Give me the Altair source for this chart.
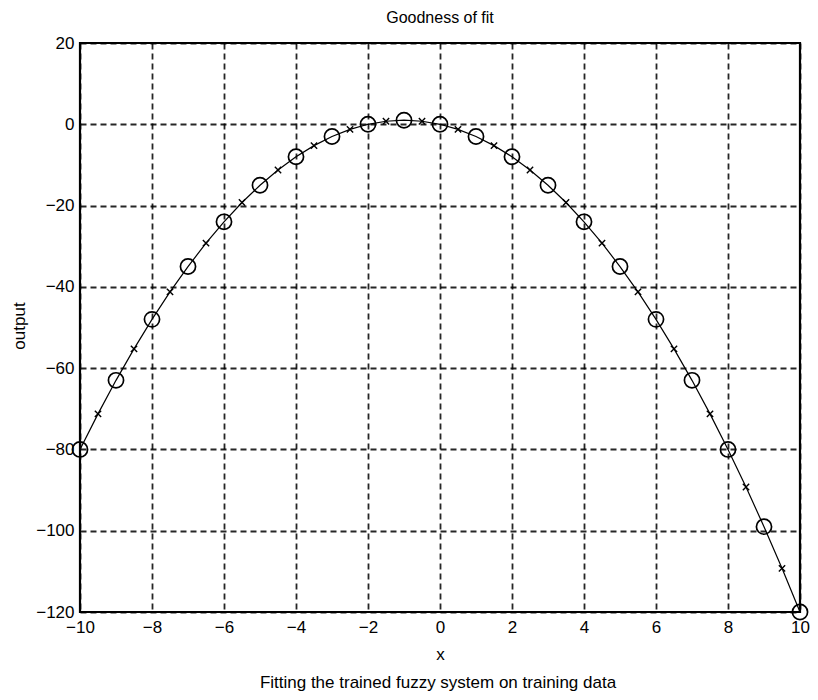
import altair as alt
import pandas as pd

# Training data (circles) at integer x
x_train = [-10, -9, -8, -7, -6, -5, -4, -3, -2, -1, 0, 1, 2, 3, 4, 5, 6, 7, 8, 9, 10]
y_train = [-80, -63, -48, -35, -24, -15, -8, -3, 0, 1, 0, -3, -8, -15, -24, -35, -48, -63, -80, -99, -120]

# Fuzzy system output (crosses) at half-integer x
x_fuzzy = [-9.5, -8.5, -7.5, -6.5, -5.5, -4.5, -3.5, -2.5, -1.5, -0.5,
           0.5, 1.5, 2.5, 3.5, 4.5, 5.5, 6.5, 7.5, 8.5, 9.5]
y_fuzzy = [-71.25, -55.25, -41.25, -29.25, -19.25, -11.25, -5.25, -1.25, 0.75, 0.75,
           -1.25, -5.25, -11.25, -19.25, -29.25, -41.25, -55.25, -71.25, -89.25, -109.25]

x_ticks = [-10, -8, -6, -4, -2, 0, 2, 4, 6, 8, 10]
y_ticks = [-120, -100, -80, -60, -40, -20, 0, 20]

df_train = pd.DataFrame({"x": x_train, "y": y_train})
df_fuzzy = pd.DataFrame({"x": x_fuzzy, "y": y_fuzzy})
df_line = pd.concat([df_train, df_fuzzy]).sort_values("x").reset_index(drop=True)

FONT = "Liberation Sans"
W, H = 720, 569
FS = 17

xs = alt.Scale(domain=[-10, 10], nice=False, zero=False)
ys = alt.Scale(domain=[-120, 20], nice=False, zero=False)

x_axis = alt.Axis(values=x_ticks, title="x", grid=True, ticks=False, domain=False,
                  labelPadding=7, labelFontSize=FS, labelFont=FONT, labelColor="black",
                  titleFontSize=FS, titleFont=FONT, titleFontWeight="normal", titleColor="black",
                  titleY=34, gridColor="black", gridDash=[6, 4], gridWidth=1.8, gridOpacity=0.85,
                  labelFlush=False)
y_axis = alt.Axis(values=y_ticks, title="output", grid=True, ticks=False, domain=False,
                  labelPadding=6, labelFontSize=FS, labelFont=FONT, labelColor="black",
                  titleFontSize=FS, titleFont=FONT, titleFontWeight="normal", titleColor="black",
                  titleX=-52, titleY=H / 2 - 2, gridColor="black", gridDash=[6, 4], gridWidth=1.8,
                  gridOpacity=0.85, labelFlush=False)

line = alt.Chart(df_line).mark_line(color="black", strokeWidth=1.2).encode(
    x=alt.X("x:Q", scale=xs, axis=x_axis),
    y=alt.Y("y:Q", scale=ys, axis=y_axis),
)

circles = alt.Chart(df_train).mark_point(
    shape="circle", filled=False, color="black", size=230, strokeWidth=1.7, opacity=1
).encode(x=alt.X("x:Q", scale=xs), y=alt.Y("y:Q", scale=ys))

crosses = alt.Chart(df_fuzzy).mark_point(
    shape="M-1,-1L1,1M-1,1L1,-1", filled=False, color="black", size=40, strokeWidth=1.4, opacity=1
).encode(x=alt.X("x:Q", scale=xs), y=alt.Y("y:Q", scale=ys))

caption = alt.Chart(pd.DataFrame({"t": ["Fitting the trained fuzzy system on training data"]})).mark_text(
    font=FONT, fontSize=FS, color="black", baseline="middle", align="center"
).encode(x=alt.value(W / 2 - 2), y=alt.value(640), text="t:N")

chart = alt.layer(line, circles, crosses, caption).properties(
    width=W, height=H,
    background="white",
    title=alt.TitleParams("Goodness of fit", font="Liberation Sans Narrow, Liberation Sans",
                          fontSize=16, fontWeight="normal",
                          color="black", offset=8, anchor="middle"),
    autosize=alt.AutoSizeParams(type="none"),
    padding={"left": 72, "top": 35, "right": 10, "bottom": 80},
).configure_view(stroke="black", strokeWidth=2.2)

chart.save("out.html", embed_options={"renderer": "svg", "actions": False})
